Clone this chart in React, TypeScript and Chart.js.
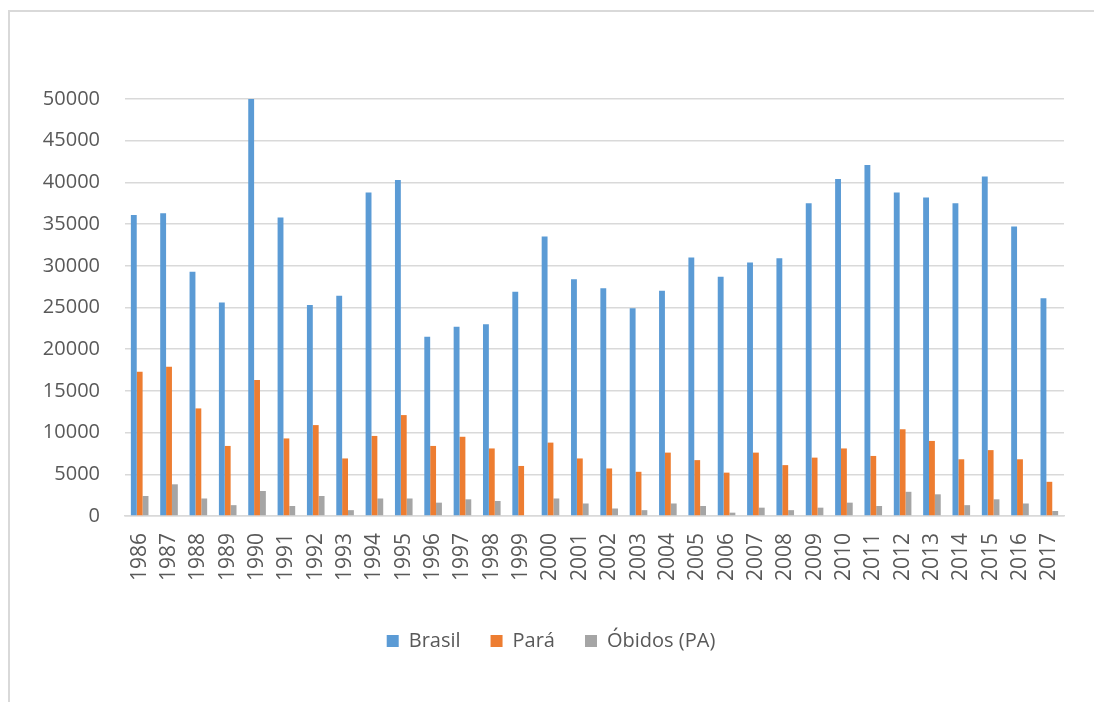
import React, { useEffect, useRef } from "react";
import { Chart, registerables } from "chart.js";

Chart.register(...registerables);

const years = [
  "1986", "1987", "1988", "1989", "1990", "1991", "1992", "1993", "1994", "1995", "1996",
  "1997", "1998", "1999", "2000", "2001", "2002", "2003", "2004", "2005", "2006", "2007",
  "2008", "2009", "2010", "2011", "2012", "2013", "2014", "2015", "2016", "2017",
];

const brasil = [
  36100, 36300, 29300, 25600, 50000, 35800, 25300, 26400, 38800, 40300, 21500,
  22700, 23000, 26900, 33500, 28400, 27300, 24900, 27000, 31000, 28700, 30400,
  30900, 37500, 40400, 42100, 38800, 38200, 37500, 40700, 34700, 26100,
];

const para = [
  17300, 17900, 12900, 8400, 16300, 9300, 10900, 6900, 9600, 12100, 8400,
  9500, 8100, 6000, 8800, 6900, 5700, 5300, 7600, 6700, 5200, 7600,
  6100, 7000, 8100, 7200, 10400, 9000, 6800, 7900, 6800, 4100,
];

const obidos = [
  2400, 3800, 2100, 1300, 3000, 1200, 2400, 700, 2100, 2100, 1600,
  2000, 1800, 0, 2100, 1500, 900, 700, 1500, 1200, 400, 1000,
  700, 1000, 1600, 1200, 2900, 2600, 1300, 2000, 1500, 600,
];

const seriesNames = ["Brasil", "Pará", "Óbidos (PA)"];
const seriesColors = ["#5B9BD5", "#ED7D31", "#A5A5A5"];

const FONT = "'Open Sans', 'Liberation Sans', sans-serif";
const TEXT = "#595959";
const GRID = "#d9d9d9";

export default function App() {
  const ref = useRef<HTMLCanvasElement | null>(null);

  useEffect(() => {
    if (!ref.current) return;
    const chart = new Chart(ref.current, {
      type: "bar",
      data: {
        labels: years,
        datasets: [brasil, para, obidos].map((d, i) => ({
          label: seriesNames[i],
          data: d,
          backgroundColor: seriesColors[i],
          borderWidth: 0,
          barPercentage: 1,
          categoryPercentage: 0.6,
        })),
      },
      options: {
        responsive: false,
        animation: false,
        devicePixelRatio: 1,
        layout: { padding: { top: 99, right: 30, bottom: 41, left: 38 } },
        plugins: {
          tooltip: { enabled: false },
          legend: {
            position: "bottom",
            labels: {
              boxWidth: 12,
              boxHeight: 12,
              padding: 30,
              color: TEXT,
              font: { family: FONT, size: 20 },
            },
          },
        },
        scales: {
          x: {
            grid: { display: false, drawTicks: false },
            border: { display: true, color: GRID, width: 1.5 },
            ticks: {
              autoSkip: false,
              minRotation: 90,
              maxRotation: 90,
              padding: 17,
              color: TEXT,
              font: { family: FONT, size: 21 },
            },
            afterFit: (scale: any) => {
              scale.height = 85;
            },
          },
          y: {
            min: 0,
            max: 50000,
            grid: { color: GRID, lineWidth: 1.5, drawTicks: false },
            border: { display: false },
            ticks: {
              stepSize: 5000,
              padding: 25,
              color: TEXT,
              font: { family: FONT, size: 20 },
              callback: (v: any) => String(v),
            },
            afterFit: (scale: any) => {
              scale.width = 87;
            },
          },
        },
      },
    });
    return () => chart.destroy();
  }, []);

  return (
    <div style={{ position: "fixed", left: 0, top: 0, width: 1094, height: 702, background: "#fff" }}>
      <div
        style={{
          position: "absolute",
          left: 8,
          top: 10,
          width: 1200,
          height: 800,
          borderLeft: `2px solid ${GRID}`,
          borderTop: `2px solid ${GRID}`,
        }}
      />
      <canvas
        ref={ref}
        width={1094}
        height={702}
        style={{ position: "absolute", left: 0, top: 0, width: 1094, height: 702 }}
      />
    </div>
  );
}
